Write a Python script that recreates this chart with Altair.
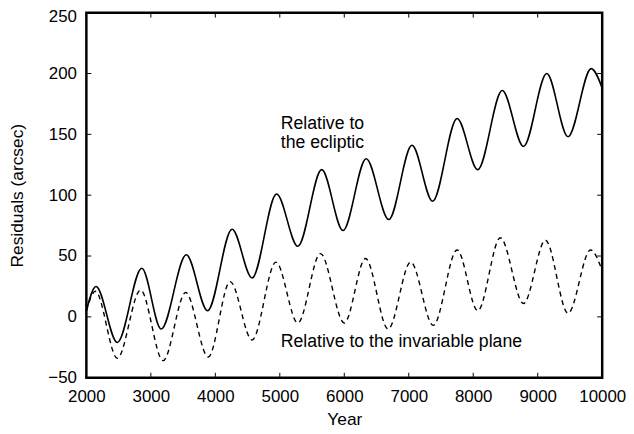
import altair as alt
import pandas as pd

# Residuals relative to the ecliptic (solid): extrema
solid_years = [2000, 2150, 2480, 2860, 3160, 3550, 3880, 4260, 4570, 4950, 5280,
               5650, 5980, 6340, 6690, 7050, 7370, 7750, 8070, 8450, 8780, 9140,
               9470, 9830, 10000]
solid_vals = [5, 25, -21, 40, -10, 51, 5, 72, 32, 101, 58,
              121, 71, 130, 80, 141, 95, 163, 121, 186, 140, 200,
              148, 204, 188]

# Residuals relative to the invariable plane (dashed)
dashed_years = [2000, 2140, 2480, 2840, 3190, 3540, 3890, 4230, 4570, 4940, 5280,
                5630, 6000, 6330, 6680, 7030, 7380, 7750, 8070, 8420, 8780, 9120,
                9470, 9820, 10000]
dashed_vals = [5, 21, -34, 22, -36, 20, -33, 29, -19, 45, -5,
               52, -5, 48, -10, 45, -7, 55, 5, 65, 11, 63,
               3, 55, 38]

x_ticks = [2000, 3000, 4000, 5000, 6000, 7000, 8000, 9000, 10000]
y_ticks = [-50, 0, 50, 100, 150, 200, 250]

label_texts = ["Relative to\nthe ecliptic", "Relative to the invariable plane"]
label_x = [5015, 5015]
label_y = [154, -24.5]

FONT = "Liberation Sans"
W, H = 520, 368

solid_df = pd.DataFrame({"year": solid_years, "value": solid_vals})
dashed_df = pd.DataFrame({"year": dashed_years, "value": dashed_vals})
xt_df = pd.DataFrame({"year": x_ticks})
yt_df = pd.DataFrame({"value": y_ticks})
lab_df = pd.DataFrame({"year": label_x, "value": label_y, "text": label_texts})

x_scale = alt.Scale(domain=[2000, 10000], nice=False, zero=False)
y_scale = alt.Scale(domain=[-50, 250], nice=False, zero=False)

x_axis = alt.Axis(values=x_ticks, format="d", labelOverlap=False, labelFlush=False,
                  labelPadding=11, title="Year", titleX=260, titleY=47,
                  titleBaseline="alphabetic", titleAlign="center")
y_axis = alt.Axis(values=y_ticks, format="d", labelOverlap=False, labelFlush=False,
                  labelPadding=10,
                  labelOffset={"condition": {"test": "datum.value == 250", "value": 4}, "value": 0},
                  title="Residuals (arcsec)",
                  titleX=-64, titleY=184, titleAngle=-90, titleBaseline="alphabetic",
                  titleAlign="center")

X = alt.X("year:Q", scale=x_scale, axis=x_axis)
Y = alt.Y("value:Q", scale=y_scale, axis=y_axis)

solid = alt.Chart(solid_df).mark_line(color="black", strokeWidth=1.6,
                                      interpolate="monotone").encode(x=X, y=Y)
dashed = alt.Chart(dashed_df).mark_line(color="black", strokeWidth=1.4, strokeDash=[5, 4],
                                        interpolate="monotone").encode(x=X, y=Y)

tick_b = alt.Chart(xt_df).mark_rule(color="black", strokeWidth=1).encode(
    x=X, y=alt.value(H), y2=alt.value(H - 5))
tick_t = alt.Chart(xt_df).mark_rule(color="black", strokeWidth=1).encode(
    x=X, y=alt.value(0), y2=alt.value(5))
tick_l = alt.Chart(yt_df).mark_rule(color="black", strokeWidth=1).encode(
    y=Y, x=alt.value(0), x2=alt.value(5))
tick_r = alt.Chart(yt_df).mark_rule(color="black", strokeWidth=1).encode(
    y=Y, x=alt.value(W), x2=alt.value(W - 5))

labels = alt.Chart(lab_df).mark_text(align="left", baseline="alphabetic", font=FONT,
                                     fontSize=17.8, color="black", lineBreak="\n",
                                     lineHeight=18.6).encode(
    x=X, y=Y, text="text:N")

chart = alt.layer(tick_b, tick_t, tick_l, tick_r, solid, dashed, labels).properties(
    width=W, height=H,
    autosize=alt.AutoSizeParams(type="none"),
    padding={"left": 79, "top": 3, "right": 24, "bottom": 50},
    background="white",
).configure_view(
    stroke="black", strokeWidth=2.5
).configure_axis(
    domain=False, grid=False, ticks=False, tickSize=0,
    labelFont=FONT, labelFontSize=17, labelColor="black",
    titleFont=FONT, titleFontSize=17.5, titleFontWeight="normal", titleColor="black",
)

chart.save("out.html", embed_options={"renderer": "svg", "actions": False})
